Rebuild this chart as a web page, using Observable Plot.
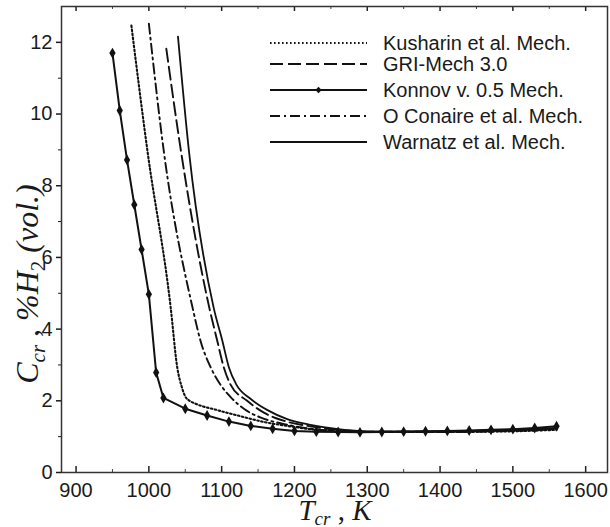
<!DOCTYPE html>
<html>
<head>
<meta charset="utf-8">
<script src="https://cdn.jsdelivr.net/npm/d3@7"></script>
<script src="https://cdn.jsdelivr.net/npm/@observablehq/plot@0.6"></script>
<style>
  html, body { margin: 0; padding: 0; background: #fff; }
  #chart { width: 610px; height: 527px; }
</style>
</head>
<body>
<div id="chart"></div>
<script>
// ---- data ----
const konnovT = [950, 960, 970, 980, 990, 1000, 1010, 1020, 1050, 1080, 1110, 1140, 1170, 1200, 1230, 1260, 1290, 1320, 1350, 1380, 1410, 1440, 1470, 1500, 1530, 1560];
const konnovC = [11.70, 10.10, 8.72, 7.47, 6.22, 4.97, 2.79, 2.08, 1.78, 1.59, 1.42, 1.30, 1.22, 1.16, 1.14, 1.13, 1.12, 1.13, 1.14, 1.15, 1.16, 1.17, 1.19, 1.21, 1.24, 1.29];

const kusharinT = [976, 998, 1030, 1039, 1045, 1050, 1056, 1064, 1094, 1126, 1158, 1190, 1222, 1260, 1300, 1400, 1500, 1560];
const kusharinC = [12.47, 8.98, 4.60, 2.93, 2.40, 2.12, 2.00, 1.92, 1.74, 1.57, 1.41, 1.30, 1.21, 1.15, 1.13, 1.13, 1.15, 1.19];

const oconaireT = [1000, 1021, 1060, 1071, 1085, 1098, 1113, 1131, 1154, 1186, 1218, 1260, 1300, 1400, 1500, 1560];
const oconaireC = [12.52, 8.89, 4.60, 3.67, 2.93, 2.46, 2.09, 1.77, 1.53, 1.35, 1.23, 1.16, 1.13, 1.13, 1.16, 1.21];

const griT = [1024, 1044, 1083, 1094, 1103, 1112, 1135, 1158, 1186, 1218, 1260, 1300, 1400, 1500, 1560];
const griC = [11.82, 8.98, 4.60, 3.67, 2.93, 2.46, 2.00, 1.67, 1.44, 1.30, 1.19, 1.14, 1.14, 1.18, 1.23];

const warnatzT = [1040, 1055, 1089, 1101, 1110, 1120, 1140, 1163, 1190, 1222, 1260, 1300, 1400, 1500, 1560];
const warnatzC = [12.16, 8.98, 4.60, 3.67, 2.93, 2.46, 2.05, 1.74, 1.49, 1.33, 1.21, 1.15, 1.15, 1.19, 1.24];

const xMajor = [900, 1000, 1100, 1200, 1300, 1400, 1500, 1600];
const xMinor = [950, 1050, 1150, 1250, 1350, 1450, 1550];
const yMajor = [0, 2, 4, 6, 8, 10, 12];
const yMinor = [1, 3, 5, 7, 9, 11];

const legendNames = ["Kusharin et al. Mech.", "GRI-Mech 3.0", "Konnov v. 0.5 Mech.", "O Conaire et al. Mech.", "Warnatz et al. Mech."];
const legendDash = ["1.6,2.4", "13,5", null, "10,4,2,4", null];

// ---- helpers ----
const zip = (T, C) => T.map((t, i) => ({t, c: C[i]}));
const W = 610, H = 527, mL = 61, mR = 3, mT = 6, mB = 55;
const plotH = H - mT - mB;
const ink = "#111";

const chart = Plot.plot({
  width: W, height: H,
  marginLeft: mL, marginRight: mR, marginTop: mT, marginBottom: mB,
  x: {domain: [880, 1630]},
  y: {domain: [0, 13]},
  style: {fontFamily: "'Liberation Sans', Arial, Helvetica, sans-serif", fontSize: "20px", color: "#1a1a1a", background: "#fff"},
  marks: [
    Plot.tickX(xMajor, {x: d => d, insetTop: plotH - 6, stroke: "#222", strokeWidth: 1.5}),
    Plot.tickX(xMinor, {x: d => d, insetTop: plotH - 3, stroke: "#444", strokeWidth: 1}),
    Plot.tickX(xMajor, {x: d => d, insetBottom: plotH - 5, stroke: "#222", strokeWidth: 1.5}),
    Plot.tickX(xMinor, {x: d => d, insetBottom: plotH - 3, stroke: "#444", strokeWidth: 1}),
    Plot.axisX(xMajor, {tickSize: 0, tickPadding: 10, fontSize: 20, tickFormat: d => String(d), label: null}),
    Plot.axisY(yMajor, {tickSize: 5, tickPadding: 4, fontSize: 20, strokeWidth: 1.5, tickFormat: d => String(d), label: null}),
    Plot.axisY(yMinor, {tickSize: 3, tickFormat: () => "", label: null}),
    // curves
    Plot.line(zip(kusharinT, kusharinC), {x: "t", y: "c", stroke: ink, strokeWidth: 2.1, strokeDasharray: legendDash[0], curve: "monotone-x"}),
    Plot.line(zip(oconaireT, oconaireC), {x: "t", y: "c", stroke: ink, strokeWidth: 1.9, strokeDasharray: legendDash[3], curve: "monotone-x"}),
    Plot.line(zip(griT, griC), {x: "t", y: "c", stroke: ink, strokeWidth: 1.9, strokeDasharray: legendDash[1], curve: "monotone-x"}),
    Plot.line(zip(warnatzT, warnatzC), {x: "t", y: "c", stroke: ink, strokeWidth: 1.8, curve: "monotone-x"}),
    Plot.line(zip(konnovT, konnovC), {x: "t", y: "c", stroke: ink, strokeWidth: 2}),
    Plot.dot(zip(konnovT, konnovC), {x: "t", y: "c", symbol: "diamond", r: 3.3, fill: ink, stroke: "none"}),
    Plot.frame({stroke: "#333", strokeWidth: 1.5})
  ]
});

document.getElementById("chart").appendChild(chart);

// ---- legend (inside the frame, top right) ----
const svg = d3.select(chart);
const lg = svg.append("g").attr("text-anchor", "start");
const lx0 = mL + 209, lx1 = mL + 306, ltx = mL + 322;
const rowY = [43, 64, 90, 116, 142];
legendNames.forEach((name, i) => {
  const y = rowY[i];
  const ln = lg.append("line").attr("x1", lx0).attr("x2", lx1).attr("y1", y).attr("y2", y)
    .attr("stroke", ink).attr("stroke-width", i === 0 ? 2.1 : 1.8);
  if (legendDash[i]) ln.attr("stroke-dasharray", legendDash[i]);
  if (i === 2) {
    lg.append("path").attr("d", d3.symbol(d3.symbolDiamond2, 26)())
      .attr("transform", `translate(${(lx0 + lx1) / 2},${y})`).attr("fill", ink);
  }
  lg.append("text").attr("x", ltx).attr("y", y).attr("dy", "0.36em")
    .attr("text-anchor", "start")
    .attr("font-size", 20).attr("fill", "#1a1a1a")
    .attr("font-family", "'Liberation Sans', Arial, Helvetica, sans-serif")
    .text(name);
});

// ---- axis titles (italic serif with subscripts) ----
const serif = "'Liberation Serif', 'Times New Roman', 'DejaVu Serif', serif";
const xt = svg.append("text").attr("x", 335).attr("y", 520).attr("text-anchor", "middle")
  .attr("font-family", serif).attr("font-size", 29).attr("fill", "#1a1a1a");
xt.append("tspan").attr("font-style", "italic").text("T");
xt.append("tspan").attr("font-style", "italic").attr("font-size", 19).attr("dy", 5).text("cr");
xt.append("tspan").attr("dy", -5).text(" , ");
xt.append("tspan").attr("font-style", "italic").text("K");

const yt = svg.append("text").attr("transform", "translate(38,284) rotate(-90)").attr("text-anchor", "middle")
  .attr("font-family", serif).attr("font-size", 32).attr("fill", "#1a1a1a");
yt.append("tspan").attr("font-style", "italic").text("C");
yt.append("tspan").attr("font-style", "italic").attr("font-size", 21).attr("dy", 7).text("cr");
yt.append("tspan").attr("dy", -7).text(" , ");
yt.append("tspan").attr("font-style", "italic").text("%H");
yt.append("tspan").attr("font-size", 21).attr("dy", 7).text("2");
yt.append("tspan").attr("font-style", "italic").attr("dy", -7).text(" (vol.)");
</script>
</body>
</html>
